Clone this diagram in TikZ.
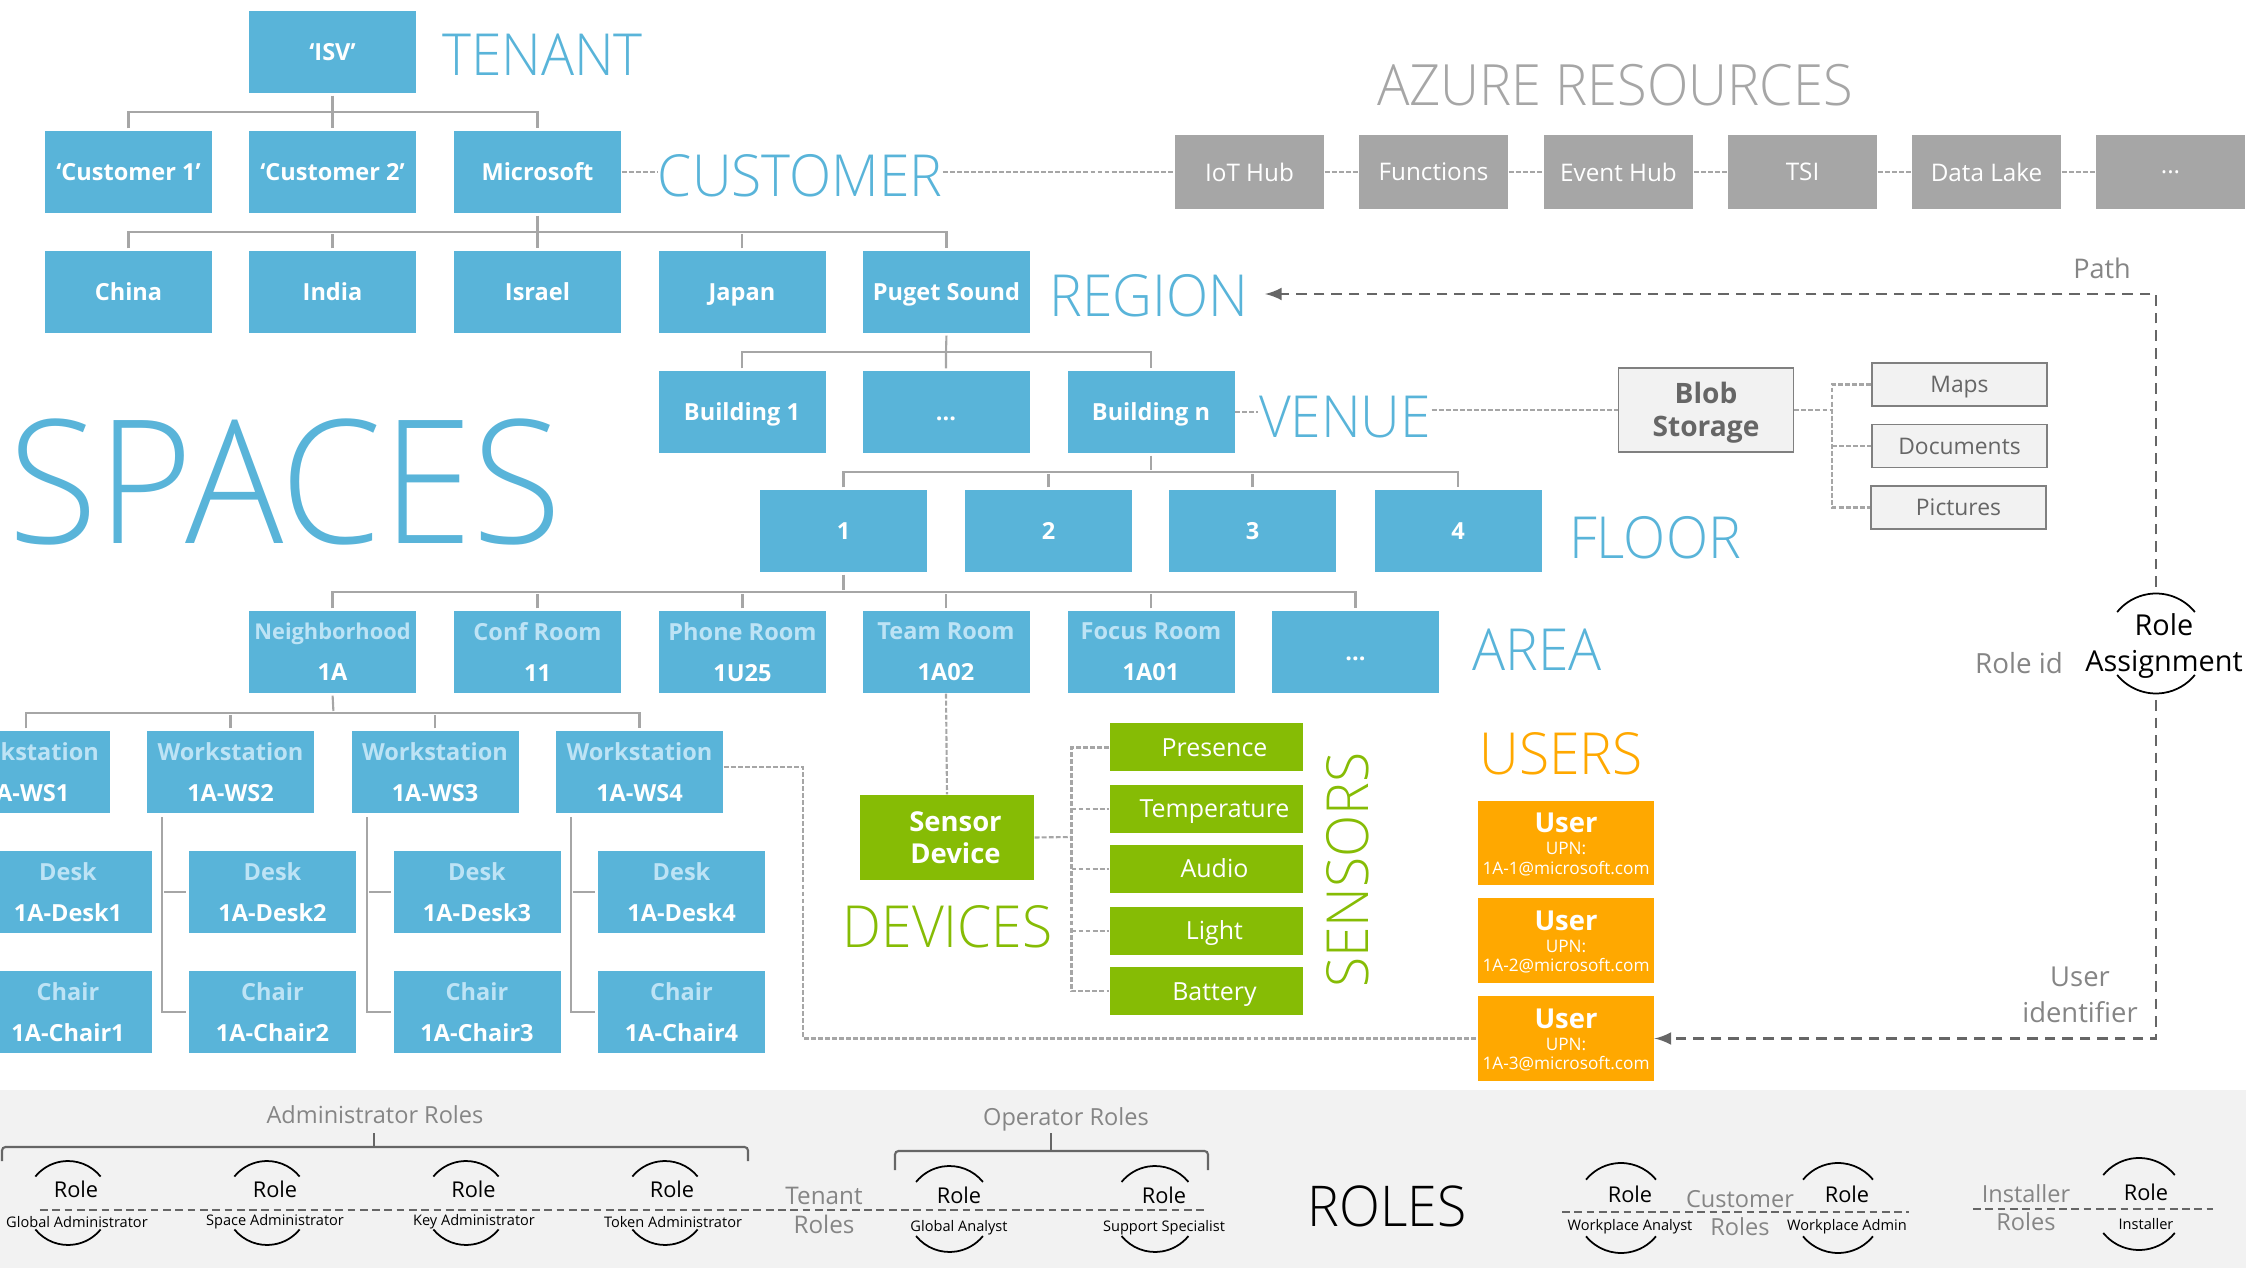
\documentclass[tikz,border=0pt]{standalone}
\usepackage{fontspec}
\setmainfont{Open Sans}
\newfontfamily\lightfont[FakeStretch=0.95]{Open Sans Light}
\usetikzlibrary{arrows,calc,positioning}
\definecolor{spaceblue}{HTML}{59B4D9}
\definecolor{titleblue}{HTML}{BDE3F5}
\definecolor{devgreen}{HTML}{86BC05}
\definecolor{userorange}{HTML}{FFA800}
\definecolor{azuregray}{HTML}{A6A6A6}
\definecolor{bandgray}{HTML}{F2F2F2}
\definecolor{darkline}{HTML}{666666}
\tikzset{
	spacebox/.style={fill=spaceblue, text=white, minimum width=1.67cm, minimum height=0.82cm, inner sep=0, align=center, font=\bfseries\fontsize{6.7}{11.6}\selectfont},
	onebox/.style={spacebox, text height=0.24cm, text depth=0.07cm},
	azurebox/.style={fill=azuregray, text=white, minimum width=1.49cm, minimum height=0.74cm, inner sep=0, font=\fontsize{6.9}{8}\selectfont},
	blobbox/.style={fill=bandgray, draw=gray, line width=0.5pt, text=darkline, minimum width=1.75cm, minimum height=0.43cm, inner sep=0, text height=0.23cm, text depth=0.06cm, font=\fontsize{6.5}{8}\selectfont},
	sensorbox/.style={fill=devgreen, text=white, minimum width=1.93cm, minimum height=0.48cm, inner sep=0, text height=0.25cm, text depth=0.07cm, font=\fontsize{7.1}{8}\selectfont, execute at begin node={\hspace*{0.16cm}}},
	userbox/.style={fill=userorange, text=white, minimum width=1.755cm, minimum height=0.845cm, inner sep=0, align=center, font=\fontsize{4.9}{5.6}\selectfont},
	biglabel/.style={inner sep=0, font=\lightfont\fontsize{16.5}{18}\selectfont},
	greylabel/.style={inner sep=0, text=darkline!80, align=center, font=\fontsize{6.7}{8}\selectfont},
	rolename/.style={inner sep=0, font=\fontsize{6.2}{8}\selectfont},
	roleuser/.style={inner sep=0, font=\fontsize{4.15}{5}\selectfont},
	treeline/.style={draw=azuregray, line width=0.6pt, shorten <=0.02cm, shorten >=0.02cm},
	lightdash/.style={draw=azuregray, line width=0.6pt, dash pattern=on 1.4pt off 0.6pt},
	pathline/.style={draw=darkline, line width=0.65pt, dash pattern=on 3pt off 2pt, -latex},
	roledash/.style={draw=darkline, line width=0.7pt, dash pattern=on 2.2pt off 1.3pt},
	rolearc/.style={draw=black, line width=0.5pt},
	bracket/.style={draw=darkline, line width=0.6pt, rounded corners=1pt},
}
\newcommand{\rolearcs}[3]{
	\draw[rolearc] (#1,#2) ++(39:#3) arc (39:141:#3);
	\draw[rolearc] (#1,#2) ++(219:#3) arc (219:321:#3);
}
\begin{document}
\begin{tikzpicture}
	\useasboundingbox (0,0) rectangle (22.54,-12.68);
	\clip (0,0) rectangle (22.54,-12.68);
	% roles band goes first
	\fill[bandgray] (0,-10.9) rectangle (22.46,-12.68);

	% tenant and customers
	\node[onebox] (isv) at (3.325,-0.52) {‘ISV’};
	\node[onebox] (cust1) at (1.285,-1.72) {‘Customer 1’};
	\node[onebox] (cust2) at (3.325,-1.72) {‘Customer 2’};
	\node[onebox] (microsoft) at (5.375,-1.72) {Microsoft};
	\node[biglabel, text=spaceblue] (tenant) at (5.425,-0.55) {TENANT};
	\node[biglabel, text=spaceblue] (customer) at (8.0,-1.755) {CUSTOMER};
	\coordinate (isvbus) at (3.325,-1.12);
	\draw[treeline] (isv.south) -- (isvbus) -- (cust2.north);
	\draw[treeline] (cust1.north) |- (isvbus) -| (microsoft.north);

	% regions
	\node[onebox] (china) at (1.285,-2.92) {China};
	\node[onebox] (india) at (3.325,-2.92) {India};
	\node[onebox] (israel) at (5.375,-2.92) {Israel};
	\node[onebox] (japan) at (7.42,-2.92) {Japan};
	\node[onebox] (puget) at (9.465,-2.92) {Puget Sound};
	\node[biglabel, text=spaceblue] (region) at (11.49,-2.96) {REGION};
	\coordinate (regionbus) at (5.375,-2.32);
	\draw[treeline] (microsoft.south) -- (regionbus) -- (israel.north);
	\draw[treeline] (china.north) |- (regionbus) -| (puget.north);
	\draw[treeline] (india.north) -- (india.north |- regionbus);
	\draw[treeline] (japan.north) -- (japan.north |- regionbus);

	% venues
	\node[onebox] (build1) at (7.42,-4.12) {Building 1};
	\node[onebox] (builddots) at (9.46,-4.12) {...};
	\node[onebox] (buildn) at (11.51,-4.12) {Building n};
	\node[biglabel, text=spaceblue] (venue) at (13.45,-4.17) {VENUE};
	\node[biglabel, text=spaceblue, font=\lightfont\fontsize{49}{50}\selectfont] (spaces) at (2.85,-4.815) {SPACES};
	\coordinate (venuebus) at (9.46,-3.52);
	\draw[treeline] (puget.south) -- (venuebus) -- (builddots.north);
	\draw[treeline] (build1.north) |- (venuebus) -| (buildn.north);

	% floors
	\node[onebox] (floor1) at (8.435,-5.31) {1};
	\node[onebox] (floor2) at (10.485,-5.31) {2};
	\node[onebox] (floor3) at (12.525,-5.31) {3};
	\node[onebox] (floor4) at (14.58,-5.31) {4};
	\node[biglabel, text=spaceblue] (floorlabel) at (16.55,-5.375) {FLOOR};
	\coordinate (floorbus) at (11.51,-4.72);
	\draw[treeline] (buildn.south) -- (floorbus);
	\draw[treeline] (floor1.north) |- (floorbus) -| (floor4.north);
	\draw[treeline] (floor2.north) -- (floor2.north |- floorbus);
	\draw[treeline] (floor3.north) -- (floor3.north |- floorbus);

	% areas
	\node[spacebox] (area1) at (3.325,-6.52) {{\color{titleblue}\fontsize{6.2}{11.6}\selectfont Neighborhood}\\1A};
	\node[spacebox] (area2) at (5.375,-6.52) {{\color{titleblue}Conf Room}\\11};
	\node[spacebox] (area3) at (7.425,-6.52) {{\color{titleblue}Phone Room}\\1U25};
	\node[spacebox] (area4) at (9.46,-6.52) {{\color{titleblue}Team Room}\\1A02};
	\node[spacebox] (area5) at (11.51,-6.52) {{\color{titleblue}Focus Room}\\1A01};
	\node[onebox] (areadots) at (13.555,-6.52) {...};
	\node[biglabel, text=spaceblue] (arealabel) at (15.37,-6.5) {AREA};
	\coordinate (areabus) at (8.435,-5.92);
	\draw[treeline] (floor1.south) -- (areabus);
	\draw[treeline] (area1.north) |- (areabus) -| (areadots.north);
	\draw[treeline] (area2.north) -- (area2.north |- areabus);
	\draw[treeline] (area3.north) -- (area3.north |- areabus);
	\draw[treeline] (area4.north) -- (area4.north |- areabus);
	\draw[treeline] (area5.north) -- (area5.north |- areabus);

	% workstations
	\node[spacebox] (ws1) at (0.26,-7.72) {{\color{titleblue}Workstation}\\1A-WS1};
	\node[spacebox] (ws2) at (2.305,-7.72) {{\color{titleblue}Workstation}\\1A-WS2};
	\node[spacebox] (ws3) at (4.35,-7.72) {{\color{titleblue}Workstation}\\1A-WS3};
	\node[spacebox] (ws4) at (6.395,-7.72) {{\color{titleblue}Workstation}\\1A-WS4};
	\coordinate (wsbus) at (3.335,-7.13);
	\draw[treeline] (area1.south) -- (wsbus);
	\draw[treeline] (ws1.north) |- (wsbus) -| (ws4.north);
	\draw[treeline] (ws2.north) -- (ws2.north |- wsbus);
	\draw[treeline] (ws3.north) -- (ws3.north |- wsbus);

	% desks and chairs
	\node[spacebox] (desk1) at (0.68,-8.92) {{\color{titleblue}Desk}\\1A-Desk1};
	\node[spacebox] (desk2) at (2.725,-8.92) {{\color{titleblue}Desk}\\1A-Desk2};
	\node[spacebox] (desk3) at (4.77,-8.92) {{\color{titleblue}Desk}\\1A-Desk3};
	\node[spacebox] (desk4) at (6.815,-8.92) {{\color{titleblue}Desk}\\1A-Desk4};
	\node[spacebox] (chair1) at (0.68,-10.12) {{\color{titleblue}Chair}\\1A-Chair1};
	\node[spacebox] (chair2) at (2.725,-10.12) {{\color{titleblue}Chair}\\1A-Chair2};
	\node[spacebox] (chair3) at (4.77,-10.12) {{\color{titleblue}Chair}\\1A-Chair3};
	\node[spacebox] (chair4) at (6.815,-10.12) {{\color{titleblue}Chair}\\1A-Chair4};
	\coordinate (ws2drop) at (1.62,-8.15);
	\coordinate (ws3drop) at (3.67,-8.15);
	\coordinate (ws4drop) at (5.71,-8.15);
	\draw[treeline] (ws2drop) |- (chair2.west);
	\draw[treeline] (ws3drop) |- (chair3.west);
	\draw[treeline] (ws4drop) |- (chair4.west);
	\draw[treeline] (ws2drop |- desk2.west) -- (desk2.west);
	\draw[treeline] (ws3drop |- desk3.west) -- (desk3.west);
	\draw[treeline] (ws4drop |- desk4.west) -- (desk4.west);

	% azure resources
	\node[biglabel, text=azuregray, font=\lightfont\fontsize{16.2}{18}\selectfont] (azure) at (16.15,-0.85) {AZURE RESOURCES};
	\node[azurebox] (iothub) at (12.495,-1.72) {IoT Hub};
	\node[azurebox] (functions) at (14.335,-1.72) {Functions};
	\node[azurebox] (eventhub) at (16.185,-1.72) {Event Hub};
	\node[azurebox] (tsi) at (18.025,-1.72) {TSI};
	\node[azurebox] (datalake) at (19.865,-1.72) {Data Lake};
	\node[azurebox] (azuredots) at (21.705,-1.72) {...};
	\draw[lightdash] (microsoft.east) -- (customer.west |- microsoft.east);
	\draw[lightdash] (customer.east |- iothub.west) -- (iothub.west);
	\draw[lightdash] (iothub.east) -- (functions.west);
	\draw[lightdash] (functions.east) -- (eventhub.west);
	\draw[lightdash] (eventhub.east) -- (tsi.west);
	\draw[lightdash] (tsi.east) -- (datalake.west);
	\draw[lightdash] (datalake.east) -- (azuredots.west);

	% blob storage
	\node[blobbox, minimum height=0.84cm, text height=, text depth=, align=center, font=\bfseries\fontsize{8}{9.2}\selectfont] (blob) at (17.06,-4.10) {\rule{0pt}{0.27cm}Blob\\Storage};
	\node[blobbox] (maps) at (19.595,-3.845) {Maps};
	\node[blobbox] (documents) at (19.595,-4.46) {Documents};
	\node[blobbox] (pictures) at (19.585,-5.075) {Pictures};
	\coordinate (blobbus) at (18.32,-4.10);
	\draw[lightdash] (buildn.east) -- (venue.west |- buildn.east);
	\draw[lightdash] (venue.east |- blob.west) -- (blob.west);
	\draw[lightdash] (blob.east) -- (blobbus);
	\draw[lightdash] (maps.west) -| (blobbus) |- (pictures.west);
	\draw[lightdash] (blobbus |- documents.west) -- (documents.west);

	% devices and sensors
	\node[spacebox, fill=devgreen, minimum width=1.74cm, minimum height=0.85cm, font=\bfseries\fontsize{7.8}{9.1}\selectfont] (sensordevice) at (9.47,-8.375) {\hspace*{0.17cm}Sensor\\\hspace*{0.17cm}Device};
	\node[biglabel, text=devgreen] (devices) at (9.475,-9.27) {DEVICES};
	\node[sensorbox] (presence) at (12.065,-7.475) {Presence};
	\node[sensorbox] (temperature) at (12.065,-8.09) {Temperature};
	\node[sensorbox] (audio) at (12.065,-8.69) {Audio};
	\node[sensorbox] (light) at (12.065,-9.31) {Light};
	\node[sensorbox] (battery) at (12.065,-9.91) {Battery};
	\node[biglabel, text=devgreen, rotate=90] (sensors) at (13.48,-8.7) {SENSORS};
	\coordinate (sensorbus) at (10.715,-8.37);
	\draw[lightdash] (area4.south) -- (sensordevice.north);
	\draw[lightdash] (sensordevice.east) -- (sensorbus);
	\draw[lightdash] (presence.west) -| (sensorbus) |- (battery.west);
	\draw[lightdash] (sensorbus |- temperature.west) -- (temperature.west);
	\draw[lightdash] (sensorbus |- audio.west) -- (audio.west);
	\draw[lightdash] (sensorbus |- light.west) -- (light.west);

	% users
	\node[biglabel, text=userorange] (users) at (15.61,-7.54) {USERS};
	\node[userbox] (user1) at (15.66,-8.43) {{\bfseries\fontsize{7.8}{8}\selectfont\rule{0pt}{6.4pt}User}\\[0.7pt]UPN:\\1A-1@microsoft.com};
	\node[userbox] (user2) at (15.66,-9.405) {{\bfseries\fontsize{7.8}{8}\selectfont\rule{0pt}{6.4pt}User}\\[0.7pt]UPN:\\1A-2@microsoft.com};
	\node[userbox] (user3) at (15.66,-10.385) {{\bfseries\fontsize{7.8}{8}\selectfont\rule{0pt}{6.4pt}User}\\[0.7pt]UPN:\\1A-3@microsoft.com};
	\coordinate (wsturn) at (8.03,-8.5);
	\draw[lightdash] ($(ws4.east)+(0,0.05)$) -| (wsturn) |- (user3.west);

	% role assignment
	\node[inner sep=0, align=center, font=\fontsize{8.2}{10.3}\selectfont] (roleassign) at (21.64,-6.46) {Role\\Assignment};
	\rolearcs{21.56}{-6.435}{0.5}
	\coordinate (roletop) at (21.56,-5.87);
	\coordinate (rolebottom) at (21.56,-7.0);
	\coordinate (regionend) at (12.65,-2.94);
	\draw[pathline] (roletop) |- (regionend);
	\draw[pathline] (rolebottom) |- (user3.east);
	\node[greylabel, font=\fontsize{7.7}{8}\selectfont] (pathlabel) at (21.02,-2.68) {Path};
	\node[greylabel, font=\fontsize{7.9}{8}\selectfont] (roleid) at (20.19,-6.63) {Role id};
	\node[greylabel, font=\fontsize{7.8}{10.2}\selectfont] (useridlabel) at (20.8,-9.95) {User\\identifier};

	% tenant roles
	\node[greylabel] (adminroles) at (3.75,-11.15) {Administrator Roles};
	\node[greylabel] (operatorroles) at (10.66,-11.19) {Operator Roles};
	\draw[bracket] (0.02,-11.61) -- (0.02,-11.47) -- (7.48,-11.47) -- (7.48,-11.61);
	\draw[bracket] (3.74,-11.47) -- (3.74,-11.33);
	\draw[bracket] (8.95,-11.70) -- (8.95,-11.51) -- (12.08,-11.51) -- (12.08,-11.70);
	\draw[bracket] (10.51,-11.51) -- (10.51,-11.33);
	\rolearcs{0.68}{-12.03}{0.42}
	\rolearcs{2.67}{-12.03}{0.42}
	\rolearcs{4.66}{-12.03}{0.42}
	\rolearcs{6.65}{-12.03}{0.42}
	\rolearcs{9.495}{-12.09}{0.43}
	\rolearcs{11.55}{-12.09}{0.43}
	\coordinate (tenantstart) at (0.40,-12.10);
	\coordinate (tenantend) at (12.06,-12.10);
	\draw[roledash] (tenantstart) -- (tenantend);
	\node[rolename] (role1) at (0.76,-11.89) {Role};
	\node[rolename] (role2) at (2.75,-11.89) {Role};
	\node[rolename] (role3) at (4.735,-11.89) {Role};
	\node[rolename] (role4) at (6.72,-11.89) {Role};
	\node[rolename] (role5) at (9.59,-11.95) {Role};
	\node[rolename] (role6) at (11.64,-11.95) {Role};
	\node[roleuser] (globaladmin) at (0.77,-12.22) {Global Administrator};
	\node[roleuser] (spaceadmin) at (2.75,-12.22) {Space Administrator};
	\node[roleuser] (keyadmin) at (4.74,-12.22) {Key Administrator};
	\node[roleuser] (tokenadmin) at (6.73,-12.22) {Token Administrator};
	\node[roleuser] (globalanalyst) at (9.59,-12.28) {Global Analyst};
	\node[roleuser] (support) at (11.64,-12.28) {Support Specialist};
	\node[greylabel, font=\fontsize{6.9}{8}\selectfont] (tenantroles) at (8.24,-12.105) {Tenant\\Roles};

	% customer and installer roles
	\node[biglabel, text=black, font=\lightfont\fontsize{16}{18}\selectfont] (roleslabel) at (13.87,-12.06) {ROLES};
	\rolearcs{16.21}{-12.08}{0.45}
	\rolearcs{18.38}{-12.08}{0.45}
	\rolearcs{21.39}{-12.04}{0.46}
	\coordinate (customerstart) at (15.62,-12.12);
	\coordinate (customerend) at (19.09,-12.12);
	\coordinate (installerstart) at (19.73,-12.09);
	\coordinate (installerend) at (22.13,-12.09);
	\draw[roledash] (customerstart) -- (customerend);
	\draw[roledash] (installerstart) -- (installerend);
	\node[rolename] (role7) at (16.30,-11.94) {Role};
	\node[rolename] (role8) at (18.47,-11.94) {Role};
	\node[rolename] (role9) at (21.46,-11.92) {Role};
	\node[roleuser] (wpanalyst) at (16.30,-12.27) {Workplace Analyst};
	\node[roleuser] (wpadmin) at (18.47,-12.27) {Workplace Admin};
	\node[roleuser] (installer) at (21.46,-12.24) {Installer};
	\node[greylabel] (customerroles) at (17.40,-12.13) {Customer\\Roles};
	\node[greylabel] (installerroles) at (20.26,-12.075) {Installer\\Roles};
\end{tikzpicture}
\end{document}
